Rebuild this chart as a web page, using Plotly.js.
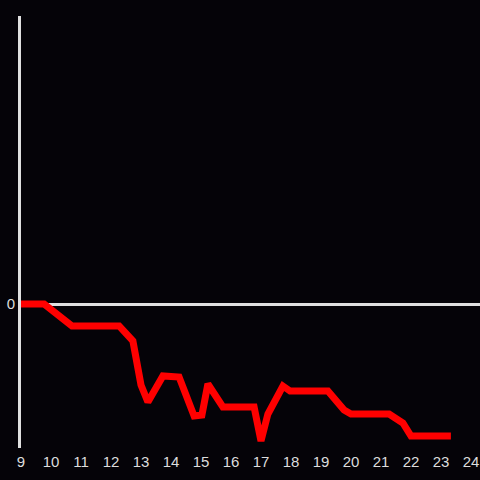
<!DOCTYPE html>
<html><head><meta charset="utf-8">
<script src="https://cdn.plot.ly/plotly-3.0.1.min.js"></script>
<style>html,body{margin:0;padding:0;background:#050308;}</style>
</head><body>
<div id="chart" style="width:480px;height:480px;"></div>
<script>
var hours = [9, 9.77, 10.7, 12.27, 12.73, 13.0, 13.23, 13.73, 14.27, 14.77, 15.03, 15.23, 15.73, 16.77, 17.0, 17.23, 17.73, 17.97, 19.23, 19.77, 20.0, 21.27, 21.73, 22.0, 23.33];
var values = [0, 0, -22, -22, -37, -81, -98, -72, -73, -112, -111, -80, -103, -103, -137, -110, -82, -87, -87, -106, -110, -110, -119, -132, -132];
var xTicks = [9,10,11,12,13,14,15,16,17,18,19,20,21,22,23,24];

Plotly.newPlot('chart', [{
  x: hours, y: values, type: 'scatter', mode: 'lines',
  line: {color: '#ff0000', width: 7},
  hoverinfo: 'none'
}], {
  width: 480, height: 480,
  paper_bgcolor: '#050308', plot_bgcolor: '#050308',
  margin: {l: 21, r: 0, t: 16, b: 32},
  showlegend: false,
  font: {family: 'Liberation Sans, Arial, sans-serif', color: '#dddddd', size: 15},
  xaxis: {range: [9, 24.3], tickvals: xTicks, showgrid: false, zeroline: false, showline: false, ticks: '', ticklabelstandoff: 3, tickfont: {size: 15, color: '#dddddd'}},
  yaxis: {range: [-144, 288], tickvals: [0], ticktext: ['0'], showgrid: false, zeroline: true, zerolinecolor: '#e0e0e0', zerolinewidth: 3, showline: true, linecolor: '#e0e0e0', linewidth: 3, ticks: '', tickfont: {size: 15, color: '#dddddd'}}
}, {staticPlot: true});
</script>
</body></html>
